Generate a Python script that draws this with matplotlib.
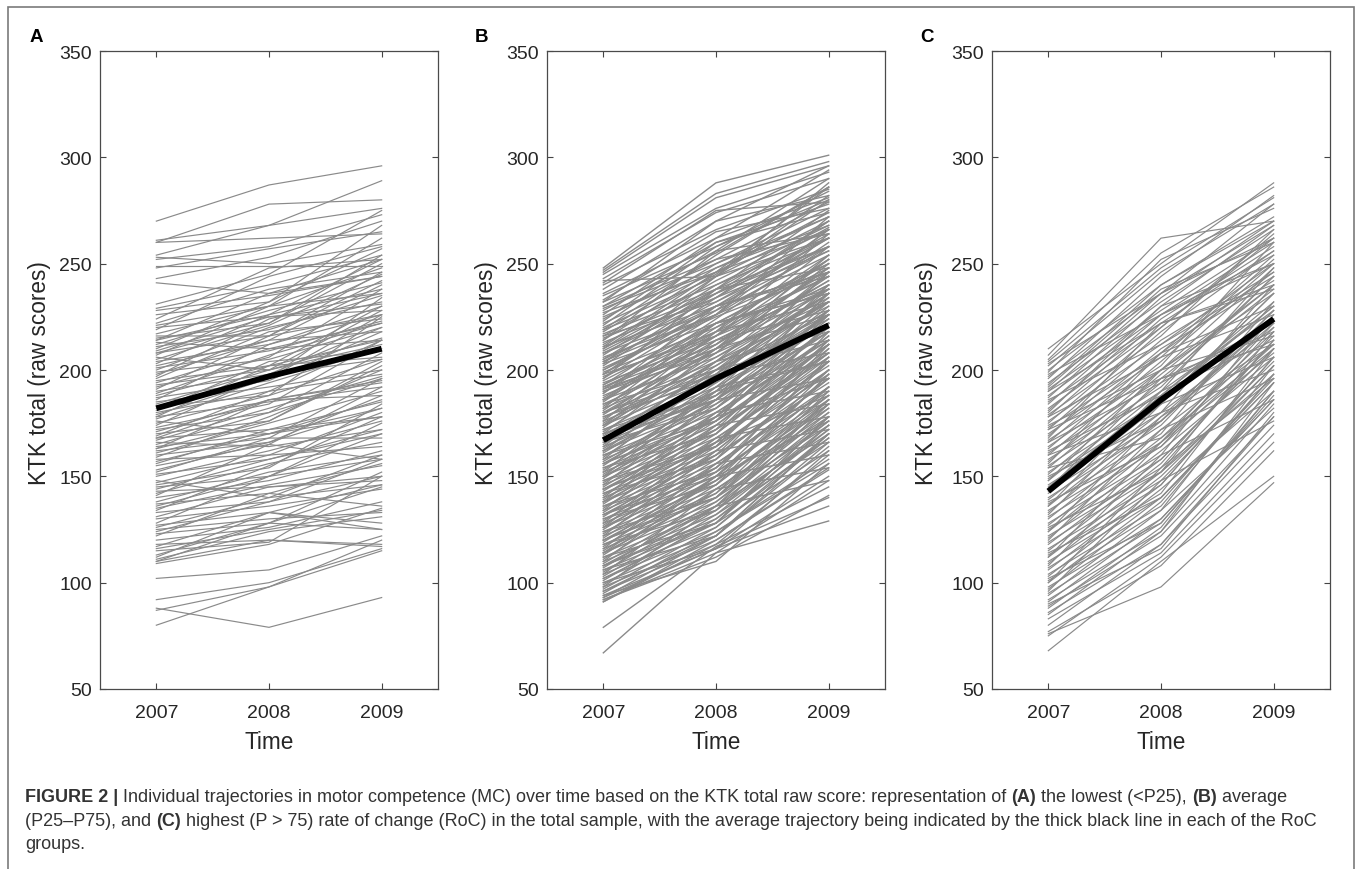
import matplotlib
matplotlib.use('Agg')
import matplotlib.pyplot as plt
from matplotlib.patches import Rectangle

plt.rcParams['font.family'] = ['Liberation Sans', 'DejaVu Sans']

years = [2007, 2008, 2009]
y_ticks = [50, 100, 150, 200, 250, 300, 350]

# individual trajectories (2007, 2008, 2009)
traj_a = [
    (270, 287, 296), (261, 268, 289), (260, 278, 280), (260, 262, 264), (254, 268, 276),
    (253, 250, 259), (252, 258, 273), (249, 249, 249), (248, 257, 265), (243, 253, 270),
    (241, 236, 252), (231, 245, 275), (229, 240, 254), (228, 235, 244), (226, 232, 268),
    (224, 248, 252), (222, 238, 246), (220, 225, 231), (219, 244, 258), (217, 230, 248),
    (216, 216, 226), (215, 222, 250), (214, 236, 244), (213, 210, 222), (212, 228, 241),
    (211, 219, 235), (210, 232, 257), (209, 225, 228), (208, 216, 242), (207, 230, 236),
    (206, 200, 215), (205, 221, 245), (204, 212, 226), (203, 226, 252), (201, 209, 223),
    (200, 220, 232), (199, 205, 220), (198, 214, 240), (196, 218, 224), (195, 202, 230),
    (194, 210, 214), (193, 200, 228), (191, 216, 246), (190, 198, 205), (189, 207, 222),
    (187, 195, 218), (186, 212, 230), (185, 192, 200), (184, 200, 212), (183, 188, 225),
    (181, 204, 209), (180, 190, 198), (179, 196, 226), (178, 185, 192), (177, 194, 210),
    (176, 170, 182), (175, 188, 205), (174, 198, 220), (172, 180, 196), (171, 186, 188),
    (170, 176, 202), (169, 190, 214), (168, 172, 178), (167, 182, 197), (166, 164, 172),
    (165, 180, 208), (164, 170, 186), (163, 186, 195), (162, 168, 168), (161, 175, 190),
    (160, 166, 182), (159, 178, 200), (158, 160, 164), (156, 172, 185), (155, 165, 158),
    (153, 166, 188), (151, 158, 170), (150, 162, 176), (148, 140, 146), (147, 160, 180),
    (145, 150, 158), (144, 158, 172), (143, 145, 150), (142, 156, 166), (141, 165, 192),
    (140, 148, 162), (138, 152, 160), (137, 142, 136), (136, 150, 170), (135, 146, 155),
    (134, 155, 178), (133, 138, 158), (131, 145, 148), (130, 136, 144), (128, 150, 175),
    (127, 133, 128), (126, 140, 160), (125, 130, 133), (124, 138, 150), (123, 128, 125),
    (122, 142, 156), (120, 126, 138), (118, 120, 117), (117, 133, 146), (116, 125, 134),
    (115, 119, 150), (113, 128, 152), (112, 133, 125), (111, 124, 131), (110, 120, 118),
    (110, 128, 145), (109, 118, 135), (102, 106, 122), (92, 100, 116), (87, 98, 115),
    (80, 98, 120), (88, 79, 93),
    (221, 230, 262), (214, 226, 238), (208, 222, 254), (202, 214, 218), (197, 224, 236),
    (192, 206, 238), (188, 202, 214), (182, 196, 234), (178, 202, 206), (173, 184, 214),
    (168, 186, 194), (163, 176, 204), (157, 170, 178), (152, 168, 196), (146, 154, 184),
]

traj_b = [
    (248, 288, 301), (247, 283, 298), (246, 281, 296), (245, 276, 293), (243, 274, 290),
    (242, 244, 288), (241, 275, 279), (240, 266, 285), (238, 270, 282), (236, 262, 294),
    (235, 258, 280), (233, 265, 276), (232, 255, 286), (230, 260, 278), (229, 250, 272),
    (228, 256, 290), (226, 262, 281), (225, 248, 268), (224, 252, 279), (222, 246, 266),
    (221, 258, 284), (220, 244, 270), (219, 240, 262), (218, 250, 276), (217, 238, 267),
    (216, 245, 282), (215, 236, 258), (214, 248, 272), (213, 234, 264), (212, 242, 268),
    (211, 230, 256), (210, 244, 280), (209, 236, 262), (208, 228, 254), (207, 240, 266),
    (206, 226, 250), (205, 238, 275), (204, 232, 258), (203, 222, 248), (202, 236, 270),
    (201, 225, 246), (200, 230, 262), (199, 220, 252), (198, 234, 256), (197, 218, 244),
    (196, 228, 266), (195, 222, 250), (194, 214, 240), (193, 226, 258), (192, 216, 246),
    (191, 222, 236), (190, 212, 248), (189, 224, 260), (188, 210, 238), (187, 218, 254),
    (186, 206, 234), (185, 220, 244), (184, 208, 250), (183, 214, 240), (182, 204, 230),
    (181, 216, 252), (180, 202, 236), (179, 212, 242), (178, 200, 226), (177, 210, 248),
    (176, 198, 232), (175, 206, 238), (174, 196, 224), (173, 208, 244), (172, 194, 228),
    (171, 204, 236), (170, 192, 222), (169, 200, 240), (168, 190, 226), (167, 202, 232),
    (166, 188, 218), (165, 198, 236), (164, 186, 222), (163, 196, 228), (162, 184, 214),
    (161, 192, 234), (160, 182, 220), (159, 194, 226), (158, 180, 212), (157, 188, 230),
    (156, 178, 216), (155, 190, 222), (154, 176, 208), (153, 186, 226), (152, 174, 212),
    (151, 182, 218), (150, 172, 206), (149, 184, 224), (148, 170, 210), (147, 180, 214),
    (146, 168, 202), (145, 178, 220), (144, 166, 206), (143, 176, 212), (142, 164, 198),
    (141, 174, 216), (140, 162, 204), (139, 172, 208), (138, 160, 194), (137, 170, 212),
    (136, 158, 200), (135, 168, 204), (134, 156, 190), (133, 166, 208), (132, 154, 196),
    (131, 164, 200), (130, 152, 186), (129, 162, 204), (128, 150, 192), (127, 160, 196),
    (126, 148, 182), (125, 158, 200), (124, 146, 188), (123, 156, 192), (122, 144, 178),
    (121, 154, 196), (120, 142, 184), (119, 152, 188), (118, 140, 174), (117, 150, 192),
    (116, 138, 180), (115, 148, 184), (114, 136, 170), (113, 146, 186), (112, 134, 176),
    (111, 144, 180), (110, 132, 166), (109, 140, 182), (108, 130, 172), (107, 138, 176),
    (106, 128, 162), (105, 136, 178), (104, 126, 168), (103, 134, 172), (102, 124, 158),
    (101, 132, 174), (100, 122, 164), (99, 130, 168), (98, 120, 154), (97, 126, 170),
    (96, 118, 160), (95, 124, 156), (94, 116, 150), (93, 122, 166), (92, 114, 148),
    (91, 120, 153), (91, 118, 145), (92, 112, 141), (93, 116, 136), (79, 117, 140),
    (67, 114, 129),
    (232, 270, 296), (230, 252, 264), (227, 246, 286), (223, 260, 274), (219, 254, 286),
    (216, 232, 262), (214, 256, 264), (211, 246, 274), (208, 234, 270), (205, 230, 246),
    (203, 244, 262), (200, 226, 272), (198, 216, 238), (196, 238, 248), (193, 218, 264),
    (191, 210, 242), (189, 230, 246), (186, 216, 258), (184, 200, 232), (182, 222, 238),
    (180, 210, 254), (178, 196, 238), (176, 218, 232), (174, 204, 246), (172, 188, 232),
    (170, 210, 226), (168, 196, 246), (166, 182, 228), (164, 204, 218), (162, 190, 240),
    (160, 176, 226), (158, 198, 208), (156, 186, 236), (154, 170, 222), (152, 192, 204),
    (150, 178, 228), (148, 164, 218), (146, 186, 196), (144, 172, 222), (142, 158, 212),
    (140, 180, 190), (138, 166, 214), (136, 152, 206), (134, 174, 184), (132, 160, 210),
    (130, 146, 198), (128, 168, 178), (126, 154, 204), (124, 140, 190), (122, 162, 172),
    (120, 148, 198), (118, 134, 184), (116, 156, 166), (114, 142, 192), (112, 128, 178),
    (110, 150, 160), (108, 136, 186), (106, 122, 170), (104, 144, 154), (102, 128, 178),
    (100, 116, 162), (98, 136, 148), (96, 122, 170), (94, 110, 156),
    (210, 238, 258), (204, 226, 266), (198, 230, 244), (192, 212, 252), (186, 222, 236),
    (180, 198, 246), (174, 214, 228), (168, 186, 236), (162, 200, 214), (156, 176, 226),
    (150, 190, 204), (144, 164, 214), (138, 178, 196), (132, 150, 200), (126, 166, 188),
    (120, 140, 186), (114, 150, 176), (108, 128, 174), (190, 208, 232), (170, 186, 218),
]

traj_c = [
    (210, 250, 288), (207, 262, 270), (205, 255, 286), (204, 248, 281), (202, 246, 278),
    (200, 240, 270), (199, 252, 276), (197, 236, 268), (196, 244, 282), (194, 232, 266),
    (193, 240, 272), (191, 228, 262), (190, 236, 278), (188, 226, 260), (187, 234, 270),
    (185, 222, 256), (184, 230, 268), (182, 220, 262), (181, 226, 254), (179, 216, 266),
    (178, 224, 258), (176, 212, 250), (175, 220, 264), (173, 208, 246), (172, 218, 256),
    (170, 206, 252), (169, 214, 246), (167, 202, 260), (166, 210, 242), (164, 200, 248),
    (163, 208, 254), (161, 196, 238), (160, 204, 250), (158, 192, 244), (157, 200, 236),
    (155, 190, 248), (154, 198, 240), (152, 186, 230), (151, 194, 244), (149, 184, 236),
    (148, 190, 228), (146, 180, 240), (145, 188, 232), (143, 176, 224), (142, 184, 236),
    (140, 174, 228), (139, 180, 220), (137, 170, 232), (136, 178, 224), (134, 166, 216),
    (133, 176, 228), (131, 164, 220), (130, 172, 212), (128, 160, 226), (127, 168, 218),
    (125, 158, 210), (124, 166, 222), (122, 154, 214), (121, 162, 206), (119, 152, 218),
    (118, 158, 210), (116, 148, 202), (115, 156, 214), (113, 146, 206), (112, 152, 198),
    (110, 142, 210), (109, 150, 202), (107, 140, 194), (106, 146, 206), (104, 136, 198),
    (103, 144, 190), (101, 134, 202), (100, 140, 194), (98, 130, 186), (97, 138, 198),
    (95, 128, 190), (94, 134, 182), (92, 124, 194), (91, 130, 186), (89, 122, 178),
    (88, 126, 190), (86, 118, 174), (85, 124, 184), (83, 114, 170), (80, 118, 178),
    (77, 108, 162), (76, 98, 147), (75, 112, 166), (68, 110, 150),
    (203, 236, 262), (198, 226, 250), (192, 238, 260), (186, 212, 244), (180, 230, 250),
    (174, 200, 240), (168, 222, 240), (162, 188, 230), (156, 208, 230), (150, 176, 222),
    (144, 196, 218), (138, 164, 212), (132, 184, 206), (126, 152, 204), (120, 172, 196),
    (114, 140, 196), (108, 160, 186), (102, 128, 188), (96, 148, 176), (90, 116, 180),
    (172, 196, 212), (160, 180, 200), (148, 200, 216), (136, 190, 214), (124, 178, 212),
    (112, 166, 208), (100, 154, 196), (190, 222, 238), (178, 206, 226), (166, 194, 222),
    (154, 168, 210),
]

# average trajectory per RoC group
mean_a = [182, 197, 210]
mean_b = [167, 196, 221]
mean_c = [143, 186, 224]

panels = [
    ('A', traj_a, mean_a, 100, 36, 60.5, 0.85),
    ('B', traj_b, mean_b, 547, 481, 60, 1.0),
    ('C', traj_c, mean_c, 992, 927, 65, 0.85),
]

W, H = 1358, 870
fig = plt.figure(figsize=(W / 100, H / 100), dpi=100)

ax_w, ax_h = 338, 638
ax_top = 52
for letter, traj, mean, left_px, letter_x, ylab_dist, lw in panels:
    ax = fig.add_axes([left_px / W, 1 - (ax_top + ax_h) / H, ax_w / W, ax_h / H])
    for row in traj:
        ax.plot(years, row, color='#8a8a8a', lw=lw, solid_joinstyle='miter')
    ax.plot(years, mean, color='black', lw=4.2, solid_capstyle='butt')

    ax.set_xlim(2006.5, 2009.5)
    ax.set_ylim(50, 350)
    ax.set_xticks(years)
    ax.set_yticks(y_ticks)
    ax.tick_params(direction='in', top=True, right=True, length=4.5, width=0.8,
                   color='#444444', labelsize=14, labelcolor='#262626')
    ax.tick_params(axis='y', pad=6)
    ax.tick_params(axis='x', pad=10.5)
    for sp in ax.spines.values():
        sp.set_color('#4a4a4a')
        sp.set_linewidth(0.9)

    ax.set_ylabel('KTK total (raw scores)', fontsize=16.3, color='#262626', va='center')
    ax.yaxis.set_label_coords(-ylab_dist / ax_w, 0.5 - 2 / ax_h)
    ax.set_xlabel('Time', fontsize=16.3, color='#262626', va='center')
    ax.xaxis.set_label_coords(0.5, -53 / ax_h)

    fig.text(letter_x / W, 1 - 37 / H, letter, fontsize=13.5, fontweight='bold',
             ha='center', va='center')

# outer frame
fig.add_artist(Rectangle((8 / W, -0.05), (1354 - 8) / W, 1.05 - 8 / H,
                         transform=fig.transFigure, fill=False,
                         edgecolor='#7a7a7a', lw=1.2))

# caption with bold runs
caption_lines = [
    [('FIGURE 2 |', 'bold'),
     (' Individual trajectories in motor competence (MC) over time based on the KTK total raw score: representation of ', 'normal'),
     ('(A)', 'bold'), (' the lowest (<P25), ', 'normal'), ('(B)', 'bold'), (' average', 'normal')],
    [('(P25\u2013P75), and ', 'normal'), ('(C)', 'bold'),
     (' highest (P > 75) rate of change (RoC) in the total sample, with the average trajectory being indicated by the thick black line in each of the RoC', 'normal')],
    [('groups.', 'normal')],
]
caption_y = [798, 822, 845]

renderer = fig.canvas.get_renderer()
for runs, ypx in zip(caption_lines, caption_y):
    x = 25
    for txt, weight in runs:
        t = fig.text(x / W, 1 - ypx / H, txt, fontsize=13.0, fontweight=weight,
                     color='#333333', ha='left', va='center')
        x += t.get_window_extent(renderer).width

fig.savefig('out.png', dpi=100)
